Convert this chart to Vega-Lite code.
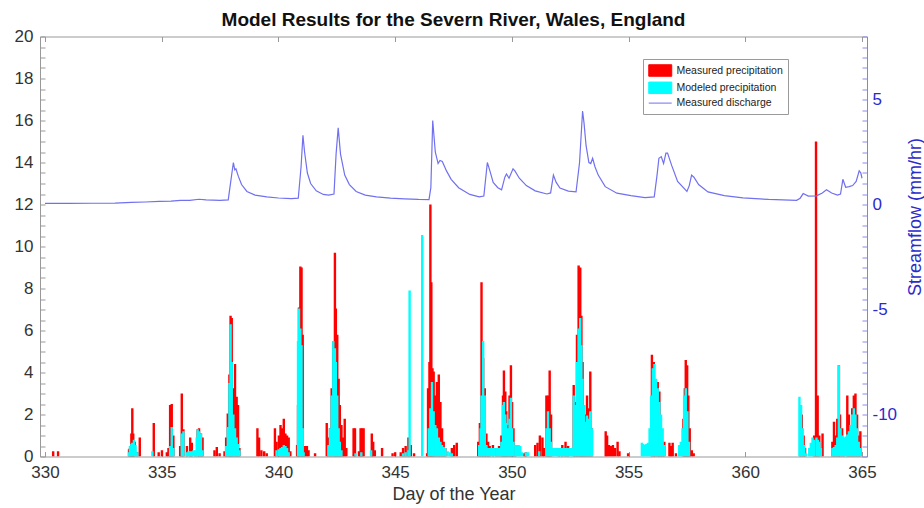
{
  "$schema": "https://vega.github.io/schema/vega-lite/v6.json",
  "width": 827,
  "height": 420,
  "autosize": {"type": "none"},
  "padding": {"left": 40, "top": 36.5, "right": 57, "bottom": 51.5},
  "background": "white",
  "title": {
    "text": "Model Results for the Severn River, Wales, England",
    "font": "Liberation Sans",
    "fontSize": 19,
    "fontWeight": "bold",
    "color": "#111111",
    "anchor": "middle",
    "offset": -2
  },
  "datasets": {
    "measured": [
      {"day": 330.35, "mm": 0.25}, {"day": 330.56, "mm": 0.25},
      {"day": 333.6, "mm": 0.35}, {"day": 333.64, "mm": 0.4}, {"day": 333.7, "mm": 1.1}, {"day": 333.74, "mm": 2.3}, {"day": 333.78, "mm": 1.1}, {"day": 333.84, "mm": 0.7}, {"day": 333.95, "mm": 0.2}, {"day": 334.06, "mm": 0.9},
      {"day": 334.66, "mm": 1.6}, {"day": 334.87, "mm": 0.2}, {"day": 335.01, "mm": 0.3}, {"day": 335.22, "mm": 0.2}, {"day": 335.29, "mm": 0.4}, {"day": 335.36, "mm": 2.45}, {"day": 335.43, "mm": 2.5}, {"day": 335.5, "mm": 1.0}, {"day": 335.79, "mm": 0.5}, {"day": 335.86, "mm": 3.0}, {"day": 335.93, "mm": 1.3}, {"day": 336.08, "mm": 0.5}, {"day": 336.22, "mm": 0.9}, {"day": 336.29, "mm": 0.65}, {"day": 336.43, "mm": 0.25}, {"day": 336.54, "mm": 1.3}, {"day": 336.6, "mm": 1.35}, {"day": 336.68, "mm": 1.1}, {"day": 336.75, "mm": 0.9},
      {"day": 337.26, "mm": 0.3}, {"day": 337.36, "mm": 0.45}, {"day": 337.48, "mm": 0.15}, {"day": 337.69, "mm": 0.25}, {"day": 337.76, "mm": 0.9}, {"day": 337.83, "mm": 2.05}, {"day": 337.9, "mm": 3.9}, {"day": 337.95, "mm": 6.7}, {"day": 338.0, "mm": 6.6}, {"day": 338.07, "mm": 3.25}, {"day": 338.14, "mm": 4.4}, {"day": 338.21, "mm": 2.85}, {"day": 338.27, "mm": 2.45}, {"day": 338.33, "mm": 0.4},
      {"day": 339.1, "mm": 1.35}, {"day": 339.17, "mm": 0.9}, {"day": 339.27, "mm": 0.3}, {"day": 339.39, "mm": 0.25}, {"day": 339.5, "mm": 0.15},
      {"day": 339.85, "mm": 1.35}, {"day": 339.92, "mm": 0.7}, {"day": 340.02, "mm": 1.0}, {"day": 340.09, "mm": 1.5}, {"day": 340.16, "mm": 1.35}, {"day": 340.23, "mm": 1.8}, {"day": 340.3, "mm": 1.1}, {"day": 340.37, "mm": 1.0}, {"day": 340.44, "mm": 0.9}, {"day": 340.51, "mm": 0.25},
      {"day": 340.8, "mm": 0.55}, {"day": 340.84, "mm": 2.45}, {"day": 340.88, "mm": 7.1}, {"day": 340.94, "mm": 9.05}, {"day": 340.99, "mm": 9.0}, {"day": 341.04, "mm": 5.8}, {"day": 341.08, "mm": 0.5}, {"day": 341.15, "mm": 0.5}, {"day": 341.22, "mm": 0.5}, {"day": 341.29, "mm": 0.3}, {"day": 341.57, "mm": 0.15},
      {"day": 342.07, "mm": 1.6}, {"day": 342.14, "mm": 0.9}, {"day": 342.21, "mm": 1.35}, {"day": 342.28, "mm": 3.25}, {"day": 342.35, "mm": 5.5}, {"day": 342.42, "mm": 9.7}, {"day": 342.46, "mm": 7.05}, {"day": 342.52, "mm": 5.8}, {"day": 342.58, "mm": 3.7}, {"day": 342.63, "mm": 2.45}, {"day": 342.7, "mm": 1.5}, {"day": 342.77, "mm": 0.9}, {"day": 342.84, "mm": 1.8}, {"day": 342.91, "mm": 0.4},
      {"day": 343.22, "mm": 1.35}, {"day": 343.28, "mm": 1.35}, {"day": 343.45, "mm": 0.25}, {"day": 343.52, "mm": 1.35}, {"day": 343.58, "mm": 1.35}, {"day": 343.65, "mm": 1.35}, {"day": 344.0, "mm": 1.1}, {"day": 344.06, "mm": 0.7}, {"day": 344.13, "mm": 0.3}, {"day": 344.44, "mm": 0.4},
      {"day": 344.89, "mm": 0.15}, {"day": 345.0, "mm": 0.2}, {"day": 345.24, "mm": 0.2}, {"day": 345.34, "mm": 0.4}, {"day": 345.45, "mm": 0.5}, {"day": 345.57, "mm": 0.9}, {"day": 345.67, "mm": 0.55}, {"day": 345.81, "mm": 0.15},
      {"day": 346.37, "mm": 0.15}, {"day": 346.41, "mm": 3.25}, {"day": 346.47, "mm": 4.5}, {"day": 346.51, "mm": 12.0}, {"day": 346.55, "mm": 8.3}, {"day": 346.6, "mm": 4.2}, {"day": 346.65, "mm": 4.05}, {"day": 346.72, "mm": 2.9}, {"day": 346.79, "mm": 3.55}, {"day": 346.87, "mm": 3.9}, {"day": 346.94, "mm": 2.6}, {"day": 347.01, "mm": 1.35}, {"day": 347.08, "mm": 0.7}, {"day": 347.15, "mm": 0.4},
      {"day": 347.43, "mm": 0.4}, {"day": 347.53, "mm": 0.55}, {"day": 347.64, "mm": 0.65},
      {"day": 348.56, "mm": 0.7}, {"day": 348.63, "mm": 1.6}, {"day": 348.7, "mm": 8.3}, {"day": 348.77, "mm": 4.7}, {"day": 348.84, "mm": 3.25}, {"day": 348.91, "mm": 1.1}, {"day": 348.98, "mm": 0.7}, {"day": 349.05, "mm": 0.5}, {"day": 349.19, "mm": 0.55}, {"day": 349.34, "mm": 0.4}, {"day": 349.45, "mm": 0.5},
      {"day": 349.55, "mm": 1.0}, {"day": 349.62, "mm": 2.9}, {"day": 349.66, "mm": 4.1}, {"day": 349.72, "mm": 3.1}, {"day": 349.76, "mm": 2.15}, {"day": 349.83, "mm": 1.5}, {"day": 349.9, "mm": 2.9}, {"day": 349.96, "mm": 4.35}, {"day": 350.01, "mm": 2.6}, {"day": 350.07, "mm": 1.35}, {"day": 350.15, "mm": 0.55},
      {"day": 350.54, "mm": 0.15}, {"day": 350.6, "mm": 0.2}, {"day": 351.0, "mm": 0.55}, {"day": 351.1, "mm": 0.65}, {"day": 351.2, "mm": 1.0}, {"day": 351.31, "mm": 0.9}, {"day": 351.38, "mm": 0.4},
      {"day": 351.48, "mm": 2.9}, {"day": 351.55, "mm": 2.9}, {"day": 351.62, "mm": 4.1}, {"day": 351.68, "mm": 2.0},
      {"day": 352.02, "mm": 0.4}, {"day": 352.16, "mm": 0.55}, {"day": 352.3, "mm": 0.7}, {"day": 352.41, "mm": 0.5},
      {"day": 352.65, "mm": 3.4}, {"day": 352.72, "mm": 2.6}, {"day": 352.79, "mm": 5.8}, {"day": 352.86, "mm": 9.1}, {"day": 352.93, "mm": 9.0}, {"day": 352.98, "mm": 6.7}, {"day": 353.03, "mm": 4.5}, {"day": 353.09, "mm": 2.45}, {"day": 353.15, "mm": 2.0}, {"day": 353.22, "mm": 2.9}, {"day": 353.29, "mm": 2.3}, {"day": 353.36, "mm": 4.05}, {"day": 353.43, "mm": 1.35},
      {"day": 354.02, "mm": 1.2}, {"day": 354.08, "mm": 1.0}, {"day": 354.16, "mm": 0.55}, {"day": 354.25, "mm": 0.5}, {"day": 354.33, "mm": 0.55}, {"day": 354.42, "mm": 0.4}, {"day": 354.53, "mm": 0.7}, {"day": 354.61, "mm": 0.25}, {"day": 354.98, "mm": 0.15},
      {"day": 356.0, "mm": 4.85}, {"day": 356.08, "mm": 4.5}, {"day": 356.15, "mm": 3.6}, {"day": 356.25, "mm": 3.55}, {"day": 356.32, "mm": 3.1}, {"day": 356.39, "mm": 0.9}, {"day": 356.46, "mm": 0.3}, {"day": 356.53, "mm": 0.7}, {"day": 356.75, "mm": 0.65}, {"day": 356.82, "mm": 0.5}, {"day": 356.89, "mm": 0.65}, {"day": 357.03, "mm": 0.15},
      {"day": 357.35, "mm": 1.8}, {"day": 357.41, "mm": 3.25}, {"day": 357.45, "mm": 4.6}, {"day": 357.51, "mm": 4.35}, {"day": 357.56, "mm": 2.9}, {"day": 357.62, "mm": 1.35}, {"day": 357.71, "mm": 0.3}, {"day": 357.79, "mm": 0.15},
      {"day": 362.35, "mm": 2.45}, {"day": 362.42, "mm": 2.0}, {"day": 362.5, "mm": 1.0}, {"day": 362.56, "mm": 0.4},
      {"day": 362.95, "mm": 1.0}, {"day": 363.03, "mm": 15.0}, {"day": 363.1, "mm": 2.9}, {"day": 363.17, "mm": 1.0}, {"day": 363.31, "mm": 1.1},
      {"day": 363.73, "mm": 0.7}, {"day": 363.8, "mm": 1.65}, {"day": 363.87, "mm": 1.0}, {"day": 363.94, "mm": 1.8}, {"day": 364.01, "mm": 4.35}, {"day": 364.06, "mm": 2.0}, {"day": 364.15, "mm": 1.35}, {"day": 364.23, "mm": 0.7}, {"day": 364.37, "mm": 2.9}, {"day": 364.44, "mm": 2.0}, {"day": 364.51, "mm": 1.35}, {"day": 364.58, "mm": 2.3}, {"day": 364.65, "mm": 2.9}, {"day": 364.72, "mm": 3.0}, {"day": 364.79, "mm": 2.0}, {"day": 364.86, "mm": 1.0}, {"day": 364.93, "mm": 1.2}
    ],
    "modeled": [
      {"day": 333.6, "mm": 0.2}, {"day": 333.64, "mm": 0.5}, {"day": 333.7, "mm": 0.6}, {"day": 333.74, "mm": 0.65}, {"day": 333.81, "mm": 0.8}, {"day": 333.88, "mm": 0.55}, {"day": 333.95, "mm": 0.2},
      {"day": 334.6, "mm": 0.25}, {"day": 335.36, "mm": 0.5}, {"day": 335.43, "mm": 1.4}, {"day": 335.5, "mm": 0.4}, {"day": 335.86, "mm": 1.1}, {"day": 335.93, "mm": 1.2},
      {"day": 336.08, "mm": 0.2}, {"day": 336.15, "mm": 0.25}, {"day": 336.22, "mm": 0.25}, {"day": 336.29, "mm": 0.25}, {"day": 336.36, "mm": 0.3}, {"day": 336.43, "mm": 0.3}, {"day": 336.5, "mm": 0.9}, {"day": 336.54, "mm": 1.3}, {"day": 336.6, "mm": 1.2}, {"day": 336.68, "mm": 1.1}, {"day": 336.75, "mm": 0.3},
      {"day": 337.76, "mm": 0.5}, {"day": 337.83, "mm": 1.4}, {"day": 337.9, "mm": 3.5}, {"day": 337.95, "mm": 6.3}, {"day": 338.0, "mm": 4.5}, {"day": 338.07, "mm": 2.0}, {"day": 338.14, "mm": 1.35}, {"day": 338.21, "mm": 0.9}, {"day": 338.27, "mm": 0.6}, {"day": 338.33, "mm": 0.3},
      {"day": 339.92, "mm": 0.3}, {"day": 340.02, "mm": 0.35}, {"day": 340.09, "mm": 0.4}, {"day": 340.16, "mm": 0.45}, {"day": 340.23, "mm": 0.55}, {"day": 340.3, "mm": 0.5}, {"day": 340.37, "mm": 0.4}, {"day": 340.44, "mm": 0.2},
      {"day": 340.84, "mm": 5.5}, {"day": 340.88, "mm": 7.05}, {"day": 340.94, "mm": 6.1}, {"day": 340.99, "mm": 5.3}, {"day": 341.04, "mm": 1.35}, {"day": 341.08, "mm": 0.2},
      {"day": 342.14, "mm": 0.55}, {"day": 342.21, "mm": 1.35}, {"day": 342.28, "mm": 2.9}, {"day": 342.35, "mm": 5.5}, {"day": 342.42, "mm": 5.15}, {"day": 342.46, "mm": 4.5}, {"day": 342.52, "mm": 2.9}, {"day": 342.58, "mm": 1.35}, {"day": 342.63, "mm": 0.7}, {"day": 342.7, "mm": 0.3},
      {"day": 343.3, "mm": 0.15}, {"day": 343.55, "mm": 0.2}, {"day": 343.97, "mm": 0.3},
      {"day": 345.34, "mm": 0.15}, {"day": 345.45, "mm": 0.2}, {"day": 345.57, "mm": 0.3}, {"day": 345.62, "mm": 7.9}, {"day": 346.16, "mm": 10.55},
      {"day": 346.44, "mm": 1.35}, {"day": 346.51, "mm": 2.3}, {"day": 346.58, "mm": 3.55}, {"day": 346.65, "mm": 2.15}, {"day": 346.72, "mm": 1.5}, {"day": 346.79, "mm": 1.35}, {"day": 346.87, "mm": 0.9}, {"day": 346.94, "mm": 0.7}, {"day": 347.01, "mm": 0.55}, {"day": 347.08, "mm": 0.45}, {"day": 347.15, "mm": 0.4}, {"day": 347.25, "mm": 0.25}, {"day": 347.35, "mm": 0.2}, {"day": 347.43, "mm": 0.15},
      {"day": 348.6, "mm": 0.55}, {"day": 348.66, "mm": 1.35}, {"day": 348.7, "mm": 2.9}, {"day": 348.77, "mm": 5.5}, {"day": 348.84, "mm": 2.9}, {"day": 348.91, "mm": 0.55}, {"day": 348.98, "mm": 0.4}, {"day": 349.05, "mm": 0.4}, {"day": 349.12, "mm": 0.4}, {"day": 349.19, "mm": 0.4}, {"day": 349.26, "mm": 0.4}, {"day": 349.34, "mm": 0.4}, {"day": 349.41, "mm": 0.4}, {"day": 349.48, "mm": 0.4},
      {"day": 349.55, "mm": 0.7}, {"day": 349.62, "mm": 2.45}, {"day": 349.66, "mm": 2.6}, {"day": 349.72, "mm": 2.0}, {"day": 349.76, "mm": 1.6}, {"day": 349.83, "mm": 1.35}, {"day": 349.9, "mm": 1.8}, {"day": 349.96, "mm": 2.8}, {"day": 350.01, "mm": 1.35}, {"day": 350.07, "mm": 0.7}, {"day": 350.15, "mm": 0.55}, {"day": 350.22, "mm": 0.55}, {"day": 350.29, "mm": 0.55}, {"day": 350.36, "mm": 0.5}, {"day": 350.43, "mm": 0.2},
      {"day": 350.6, "mm": 0.2}, {"day": 350.7, "mm": 0.2}, {"day": 351.17, "mm": 0.25},
      {"day": 351.48, "mm": 1.35}, {"day": 351.55, "mm": 2.15}, {"day": 351.62, "mm": 1.35}, {"day": 351.68, "mm": 0.7}, {"day": 351.75, "mm": 0.4}, {"day": 351.82, "mm": 0.4}, {"day": 351.9, "mm": 0.4}, {"day": 351.97, "mm": 0.4}, {"day": 352.04, "mm": 0.4}, {"day": 352.11, "mm": 0.4}, {"day": 352.18, "mm": 0.4}, {"day": 352.25, "mm": 0.4}, {"day": 352.32, "mm": 0.4}, {"day": 352.39, "mm": 0.4}, {"day": 352.46, "mm": 0.4}, {"day": 352.53, "mm": 0.4}, {"day": 352.58, "mm": 0.4},
      {"day": 352.65, "mm": 2.9}, {"day": 352.72, "mm": 2.45}, {"day": 352.79, "mm": 4.5}, {"day": 352.86, "mm": 6.1}, {"day": 352.93, "mm": 6.6}, {"day": 352.98, "mm": 5.3}, {"day": 353.03, "mm": 3.7}, {"day": 353.09, "mm": 2.45}, {"day": 353.15, "mm": 1.65}, {"day": 353.22, "mm": 1.95}, {"day": 353.29, "mm": 1.8}, {"day": 353.36, "mm": 2.15}, {"day": 353.43, "mm": 1.35},
      {"day": 355.57, "mm": 0.65}, {"day": 355.63, "mm": 0.6}, {"day": 355.69, "mm": 0.55}, {"day": 355.76, "mm": 0.6}, {"day": 355.83, "mm": 0.65}, {"day": 355.9, "mm": 1.35}, {"day": 355.97, "mm": 2.9}, {"day": 356.04, "mm": 4.2}, {"day": 356.11, "mm": 4.4}, {"day": 356.18, "mm": 3.7}, {"day": 356.25, "mm": 3.25}, {"day": 356.32, "mm": 2.6}, {"day": 356.39, "mm": 2.0}, {"day": 356.46, "mm": 1.35}, {"day": 356.53, "mm": 0.55},
      {"day": 357.17, "mm": 0.55}, {"day": 357.24, "mm": 0.7}, {"day": 357.31, "mm": 1.35}, {"day": 357.38, "mm": 2.9}, {"day": 357.45, "mm": 3.25}, {"day": 357.52, "mm": 2.15}, {"day": 357.59, "mm": 0.7},
      {"day": 362.32, "mm": 2.85}, {"day": 362.39, "mm": 2.45}, {"day": 362.46, "mm": 1.35}, {"day": 362.53, "mm": 0.55}, {"day": 362.6, "mm": 0.15},
      {"day": 362.74, "mm": 0.4}, {"day": 362.81, "mm": 0.65}, {"day": 362.88, "mm": 0.9}, {"day": 362.95, "mm": 0.8}, {"day": 363.05, "mm": 0.9}, {"day": 363.11, "mm": 0.8}, {"day": 363.17, "mm": 0.7}, {"day": 363.24, "mm": 0.4},
      {"day": 363.73, "mm": 0.4}, {"day": 363.8, "mm": 0.45}, {"day": 363.87, "mm": 0.55}, {"day": 363.94, "mm": 0.9}, {"day": 364.01, "mm": 4.35}, {"day": 364.08, "mm": 1.35}, {"day": 364.15, "mm": 1.0}, {"day": 364.23, "mm": 0.9}, {"day": 364.3, "mm": 0.95}, {"day": 364.37, "mm": 1.05}, {"day": 364.44, "mm": 1.2}, {"day": 364.51, "mm": 1.5}, {"day": 364.58, "mm": 2.0}, {"day": 364.65, "mm": 2.3}, {"day": 364.72, "mm": 2.0}, {"day": 364.79, "mm": 1.35}, {"day": 364.86, "mm": 0.7}, {"day": 364.93, "mm": 0.4}
    ],
    "discharge": [
      {"day": 330.0, "q": 0.05}, {"day": 331.0, "q": 0.05}, {"day": 332.0, "q": 0.06}, {"day": 333.0, "q": 0.07}, {"day": 333.7, "q": 0.1}, {"day": 334.3, "q": 0.12}, {"day": 334.9, "q": 0.15}, {"day": 335.4, "q": 0.16}, {"day": 335.8, "q": 0.2}, {"day": 336.2, "q": 0.2}, {"day": 336.6, "q": 0.25}, {"day": 336.9, "q": 0.22}, {"day": 337.5, "q": 0.2}, {"day": 337.85, "q": 0.22},
      {"day": 337.97, "q": 1.2}, {"day": 338.07, "q": 2.0}, {"day": 338.13, "q": 1.65}, {"day": 338.18, "q": 1.7}, {"day": 338.28, "q": 1.35}, {"day": 338.42, "q": 0.95}, {"day": 338.65, "q": 0.62}, {"day": 339.0, "q": 0.45}, {"day": 339.5, "q": 0.36}, {"day": 340.0, "q": 0.31}, {"day": 340.55, "q": 0.28}, {"day": 340.85, "q": 0.3},
      {"day": 340.97, "q": 1.8}, {"day": 341.05, "q": 3.3}, {"day": 341.12, "q": 2.5}, {"day": 341.24, "q": 1.5}, {"day": 341.38, "q": 1.0}, {"day": 341.62, "q": 0.65}, {"day": 341.92, "q": 0.48}, {"day": 342.15, "q": 0.45}, {"day": 342.38, "q": 0.5},
      {"day": 342.47, "q": 2.4}, {"day": 342.56, "q": 3.65}, {"day": 342.66, "q": 2.4}, {"day": 342.84, "q": 1.4}, {"day": 343.04, "q": 0.95}, {"day": 343.33, "q": 0.62}, {"day": 343.72, "q": 0.45}, {"day": 344.2, "q": 0.36}, {"day": 344.8, "q": 0.3}, {"day": 345.4, "q": 0.27}, {"day": 346.0, "q": 0.24}, {"day": 346.45, "q": 0.23},
      {"day": 346.53, "q": 0.8}, {"day": 346.61, "q": 4.0}, {"day": 346.72, "q": 2.5}, {"day": 346.84, "q": 1.95}, {"day": 346.92, "q": 2.1}, {"day": 347.02, "q": 2.05}, {"day": 347.2, "q": 1.6}, {"day": 347.4, "q": 1.2}, {"day": 347.72, "q": 0.8}, {"day": 348.2, "q": 0.48}, {"day": 348.6, "q": 0.36}, {"day": 348.8, "q": 0.4},
      {"day": 348.95, "q": 2.0}, {"day": 349.06, "q": 1.6}, {"day": 349.2, "q": 1.05}, {"day": 349.4, "q": 0.8}, {"day": 349.56, "q": 0.7}, {"day": 349.7, "q": 1.3}, {"day": 349.77, "q": 1.45}, {"day": 349.88, "q": 1.25}, {"day": 350.05, "q": 1.7}, {"day": 350.13, "q": 1.6}, {"day": 350.32, "q": 1.25}, {"day": 350.62, "q": 0.9}, {"day": 351.0, "q": 0.65}, {"day": 351.5, "q": 0.5}, {"day": 351.66, "q": 0.55},
      {"day": 351.78, "q": 1.4}, {"day": 351.9, "q": 1.05}, {"day": 352.06, "q": 0.78}, {"day": 352.42, "q": 0.64}, {"day": 352.75, "q": 0.6}, {"day": 352.9, "q": 2.0}, {"day": 353.03, "q": 4.45}, {"day": 353.09, "q": 3.9}, {"day": 353.18, "q": 2.8}, {"day": 353.3, "q": 2.0}, {"day": 353.38, "q": 1.95}, {"day": 353.46, "q": 2.2}, {"day": 353.56, "q": 1.8}, {"day": 353.7, "q": 1.4}, {"day": 354.0, "q": 0.85}, {"day": 354.5, "q": 0.54}, {"day": 355.1, "q": 0.42}, {"day": 355.7, "q": 0.33}, {"day": 356.1, "q": 0.36},
      {"day": 356.22, "q": 1.4}, {"day": 356.3, "q": 2.2}, {"day": 356.4, "q": 2.28}, {"day": 356.5, "q": 1.95}, {"day": 356.6, "q": 2.45}, {"day": 356.67, "q": 2.45}, {"day": 356.85, "q": 1.85}, {"day": 357.1, "q": 1.1}, {"day": 357.5, "q": 0.62}, {"day": 357.6, "q": 0.9}, {"day": 357.7, "q": 1.4}, {"day": 357.8, "q": 1.3}, {"day": 358.0, "q": 0.95}, {"day": 358.4, "q": 0.6}, {"day": 359.1, "q": 0.42}, {"day": 359.9, "q": 0.32}, {"day": 361.0, "q": 0.24}, {"day": 362.2, "q": 0.2},
      {"day": 362.35, "q": 0.3}, {"day": 362.48, "q": 0.52}, {"day": 362.7, "q": 0.4}, {"day": 363.05, "q": 0.41}, {"day": 363.3, "q": 0.55}, {"day": 363.48, "q": 0.7}, {"day": 363.7, "q": 0.55}, {"day": 363.95, "q": 0.45}, {"day": 364.08, "q": 0.5}, {"day": 364.18, "q": 1.2}, {"day": 364.3, "q": 0.82}, {"day": 364.45, "q": 0.85}, {"day": 364.6, "q": 0.9}, {"day": 364.75, "q": 1.1}, {"day": 364.88, "q": 1.6}, {"day": 364.95, "q": 1.5}, {"day": 365.0, "q": 1.25}
    ]
  },
  "layer": [
    {
      "data": {"name": "measured"},
      "mark": {"type": "bar", "size": 2.4, "clip": true},
      "encoding": {
        "x": {
          "field": "day",
          "type": "quantitative",
          "scale": {"domain": [330, 365], "nice": false, "zero": false},
          "axis": {
            "orient": "bottom",
            "values": [330, 335, 340, 345, 350, 355, 360, 365],
            "format": "d",
            "title": "Day of the Year",
            "titleFontSize": 18,
            "titleFontWeight": "normal",
            "titleColor": "#333333",
            "titlePadding": 5,
            "labelFontSize": 17,
            "labelColor": "#333333",
            "labelPadding": 13,
            "labelFlush": false,
            "labelOverlap": false,
            "tickSize": -5,
            "tickColor": "#999999",
            "domainColor": "#999999"
          }
        },
        "y": {
          "field": "mm",
          "type": "quantitative",
          "scale": {"domain": [0, 20], "nice": false},
          "axis": {
            "orient": "left",
            "values": [0, 0.5, 1, 1.5, 2, 2.5, 3, 3.5, 4, 4.5, 5, 5.5, 6, 6.5, 7, 7.5, 8, 8.5, 9, 9.5, 10, 10.5, 11, 11.5, 12, 12.5, 13, 13.5, 14, 14.5, 15, 15.5, 16, 16.5, 17, 17.5, 18, 18.5, 19, 19.5, 20],
            "labelExpr": "datum.value % 2 === 0 ? '' + datum.value : ''",
            "title": null,
            "labelFontSize": 17,
            "labelColor": "#333333",
            "labelPadding": 12,
            "labelOverlap": false,
            "tickSize": -5,
            "tickColor": "#999999",
            "domainColor": "#999999"
          }
        },
        "color": {
          "datum": "Measured precipitation",
          "type": "nominal",
          "scale": {
            "domain": ["Measured precipitation", "Modeled precipitation", "Measured discharge"],
            "range": ["#ff0000", "#00ffff", "#7070f0"]
          },
          "legend": {
            "title": null,
            "orient": "none",
            "legendX": 603,
            "legendY": 22.5,
            "fillColor": "white",
            "strokeColor": "#9a9a9a",
            "padding": 5,
            "labelFont": "Liberation Sans",
            "labelFontSize": 10.5,
            "labelColor": "#222222",
            "symbolType": "M-2,-1H2V1H-2Z",
            "symbolSize": 132,
            "symbolOffset": 5.75,
            "labelOffset": 9.75,
            "rowPadding": 0.3,
            "symbolStrokeWidth": 1,
            "encoding": {
              "symbols": {
                "shape": {"value": {"expr": "datum.value === 'Measured discharge' ? 'M-2,0H2' : 'M-2,-1H2V1H-2Z'"}},
                "stroke": {"value": {"expr": "scale('color', datum.value)"}},
                "fill": {"value": {"expr": "datum.value === 'Measured discharge' ? 'transparent' : scale('color', datum.value)"}}
              }
            }
          }
        }
      }
    },
    {
      "data": {"name": "modeled"},
      "mark": {"type": "bar", "size": 2.4, "clip": true},
      "encoding": {
        "x": {"field": "day", "type": "quantitative", "axis": null},
        "y": {"field": "mm", "type": "quantitative", "scale": {"domain": [0, 20], "nice": false}, "axis": null},
        "color": {
          "datum": "Modeled precipitation",
          "type": "nominal",
          "scale": {
            "domain": ["Measured precipitation", "Modeled precipitation", "Measured discharge"],
            "range": ["#ff0000", "#00ffff", "#7070f0"]
          }
        }
      }
    },
    {
      "data": {"name": "discharge"},
      "mark": {"type": "line", "strokeWidth": 1.2, "clip": true},
      "encoding": {
        "x": {
          "field": "day",
          "type": "quantitative",
          "axis": {
            "orient": "top",
            "values": [330, 335, 340, 345, 350, 355, 360, 365],
            "labels": false,
            "title": null,
            "tickSize": -5,
            "tickColor": "#999999",
            "domainColor": "#999999"
          }
        },
        "y": {
          "field": "q",
          "type": "quantitative",
          "scale": {"domain": [-12, 8], "nice": false, "zero": false},
          "axis": {
            "orient": "right",
            "values": [-12, -11.5, -11, -10.5, -10, -9.5, -9, -8.5, -8, -7.5, -7, -6.5, -6, -5.5, -5, -4.5, -4, -3.5, -3, -2.5, -2, -1.5, -1, -0.5, 0, 0.5, 1, 1.5, 2, 2.5, 3, 3.5, 4, 4.5, 5, 5.5, 6, 6.5, 7, 7.5, 8],
            "labelExpr": "datum.value % 5 === 0 ? '' + datum.value : ''",
            "labelFontSize": 17,
            "labelColor": "#2b2bcc",
            "labelPadding": 10,
            "labelOverlap": false,
            "tickSize": -5,
            "tickColor": "#8a8aee",
            "domainColor": "#8080ee",
            "title": "Streamflow (mm/hr)",
            "titleFontSize": 18,
            "titleFontWeight": "normal",
            "titleColor": "#2b2bcc",
            "titleAngle": 270,
            "titleX": 48,
            "titleY": 180,
            "titleAlign": "center",
            "titleBaseline": "middle"
          }
        },
        "color": {
          "datum": "Measured discharge",
          "type": "nominal",
          "scale": {
            "domain": ["Measured precipitation", "Modeled precipitation", "Measured discharge"],
            "range": ["#ff0000", "#00ffff", "#7070f0"]
          }
        }
      }
    }
  ],
  "resolve": {
    "scale": {"y": "independent"},
    "axis": {"x": "independent", "y": "independent"}
  },
  "config": {
    "view": {"stroke": null},
    "font": "Liberation Sans",
    "axis": {"labelFont": "Liberation Sans", "titleFont": "Liberation Sans", "grid": false}
  }
}
